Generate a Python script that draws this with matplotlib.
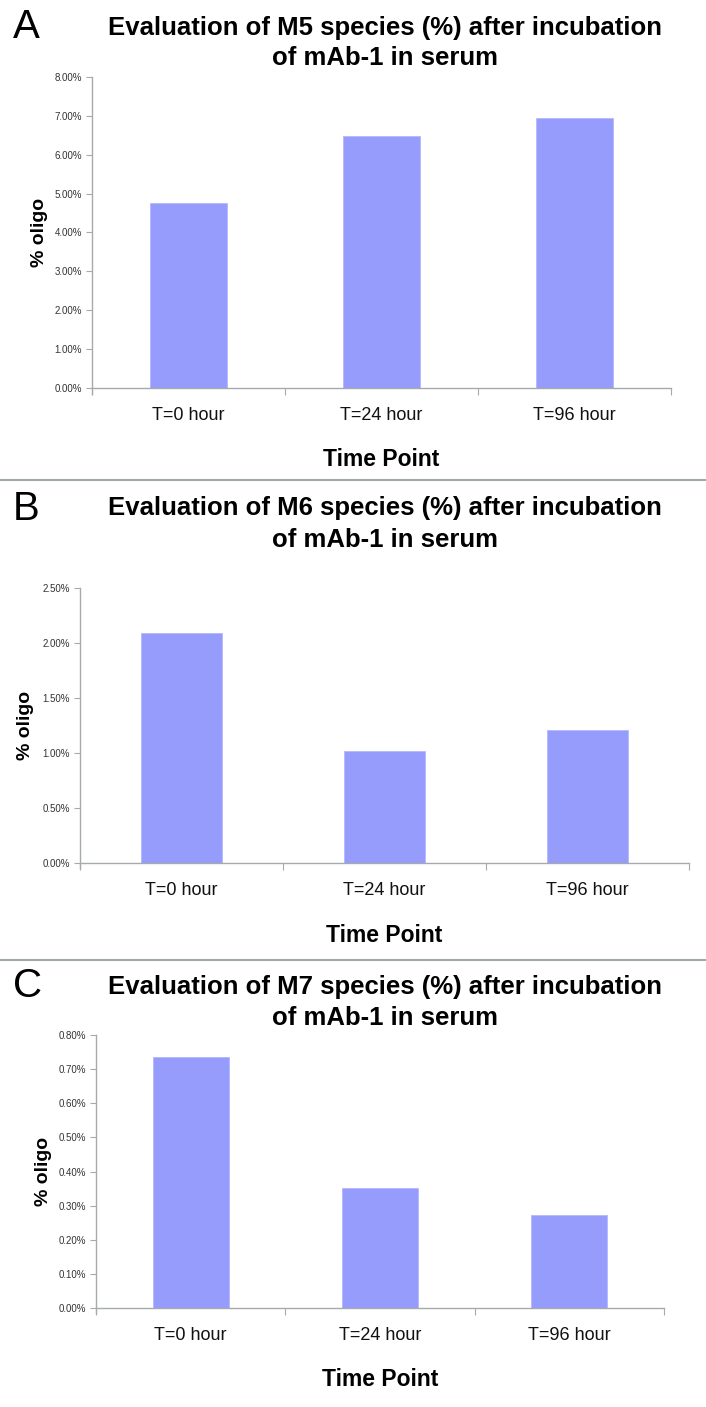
import matplotlib
matplotlib.use("Agg")
import matplotlib.pyplot as plt
from matplotlib.ticker import FuncFormatter, MultipleLocator

W, H = 706, 1407
DPI = 100

categories = ["T=0 hour", "T=24 hour", "T=96 hour"]
m5_values = [4.77, 6.48, 6.94]
m6_values = [2.09, 1.02, 1.21]
m7_values = [0.736, 0.352, 0.272]

panel_letters = ["A", "B", "C"]
titles = [
    "Evaluation of M5 species (%) after incubation\nof mAb-1 in serum",
    "Evaluation of M6 species (%) after incubation\nof mAb-1 in serum",
    "Evaluation of M7 species (%) after incubation\nof mAb-1 in serum",
]
y_max = [8.0, 2.5, 0.8]
y_step = [1.0, 0.5, 0.1]
x_label = "Time Point"
y_label = "% oligo"

BAR = "#969CFC"
AXC = "#A6A9AD"
FONT = "Liberation Sans"

# layout in pixels: (left, right, top, bottom)
boxes = [(92, 671, 77, 388), (80, 689, 588, 863), (96, 664, 1035, 1308)]
title_y = [(28, 58), (508, 540), (987, 1018)]
letter_y = [27, 509, 986]
ylab_x = [40, 25, 43]
sep_y = [480, 960]

fig = plt.figure(figsize=(W / DPI, H / DPI), dpi=DPI)
fig.patch.set_facecolor("white")

def fx(x):
    return x / W

def fy(y):
    return 1 - y / H

series = [m5_values, m6_values, m7_values]
for i in range(3):
    l, r, t, b = boxes[i]
    ax = fig.add_axes([fx(l), fy(b), (r - l) / W, (b - t) / H])
    xs = range(len(categories))
    ax.bar(xs, series[i], width=0.4, color=BAR, edgecolor="#B4B8FD", linewidth=0.6, zorder=2)
    ax.set_xlim(-0.5, len(categories) - 0.5)
    ax.set_ylim(0, y_max[i])
    ax.yaxis.set_major_locator(MultipleLocator(y_step[i]))
    ax.yaxis.set_major_formatter(FuncFormatter(lambda v, p: f"{v:.2f}%"))
    ax.set_xticks([k - 0.5 for k in range(len(categories) + 1)])
    ax.set_xticklabels([])
    ax.set_xticks(list(xs), minor=True)
    ax.set_xticklabels(categories, minor=True, fontsize=13, family=FONT, color="#111111")
    ax.tick_params(axis="x", which="minor", length=0, pad=14)
    ax.tick_params(axis="x", which="major", length=5, width=0.8, color=AXC, direction="out")
    ax.tick_params(axis="y", length=4, width=0.8, color=AXC, direction="out", pad=3)
    for lab in ax.get_yticklabels():
        lab.set_fontsize(7)
        lab.set_family(FONT)
        lab.set_color("#333333")
    for s in ["top", "right"]:
        ax.spines[s].set_visible(False)
    for s in ["left", "bottom"]:
        ax.spines[s].set_color(AXC)
        ax.spines[s].set_linewidth(1.0)
    ax.spines["left"].set_bounds(-y_max[i] * 0.02, y_max[i])
    ax.set_facecolor("white")

    cx = (l + r) / 2
    fig.text(fx(cx), fy(b + 72), x_label, ha="center", va="center",
             fontsize=16.5, fontweight="bold", family=FONT)
    fig.text(fx(ylab_x[i]), fy((t + b) / 2), y_label, ha="center", va="center",
             rotation=90, fontsize=14, fontweight="bold", family=FONT)
    line1, line2 = titles[i].split("\n")
    fig.text(fx(385), fy(title_y[i][0]), line1, ha="center", va="center",
             fontsize=18.5, fontweight="bold", family=FONT)
    fig.text(fx(385), fy(title_y[i][1]), line2, ha="center", va="center",
             fontsize=18.5, fontweight="bold", family=FONT)
    fig.text(fx(13), fy(letter_y[i]), panel_letters[i], ha="left", va="center",
             fontsize=29, family=FONT)

for y in sep_y:
    fig.add_artist(plt.Line2D([0, 1], [fy(y), fy(y)], color="#A0A8AE", linewidth=1.5))

fig.savefig("out.png", dpi=DPI, facecolor="white")
